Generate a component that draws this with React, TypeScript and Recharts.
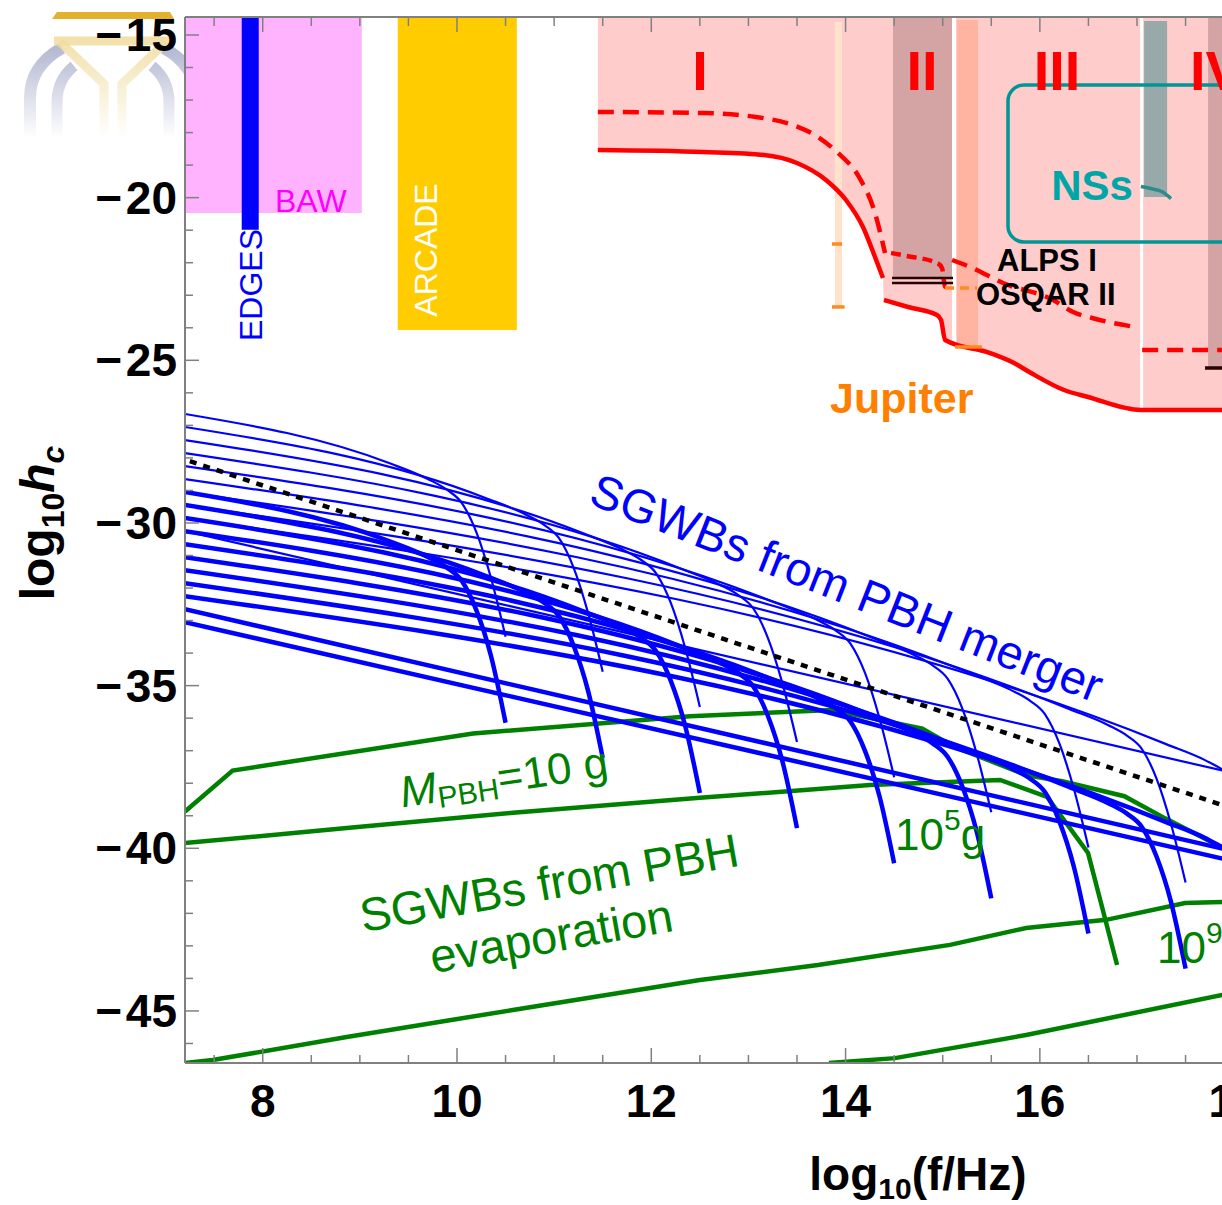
import React from "react";
import { ComposedChart, Line, Area, XAxis, YAxis, ReferenceArea } from "recharts";

const FONT = "'Liberation Sans', Arial, Helvetica, sans-serif";
const Y_TOP = -14.447;
const X_DOMAIN: [number, number] = [7.2, 18.4];
const Y_DOMAIN: [number, number] = [-46.6, Y_TOP];

const xTicks = [7.5, 8, 8.5, 9, 9.5, 10, 10.5, 11, 11.5, 12, 12.5, 13, 13.5, 14, 14.5, 15, 15.5, 16, 16.5, 17, 17.5, 18];
const yTicks = [-46, -45, -44, -43, -42, -41, -40, -39, -38, -37, -36, -35, -34, -33, -32, -31, -30, -29, -28, -27, -26, -25, -24, -23, -22, -21, -20, -19, -18, -17, -16, -15];

// ---- experimental bounds (red) ----
const redSolidX1 = [11.45, 12.531, 13.16, 13.499, 13.798, 14.004, 14.179, 14.303, 14.385];
const redSolidY1 = [-18.535, -18.597, -18.689, -18.935, -19.457, -20.072, -20.902, -21.824, -22.47];
const redSolidX2 = [14.395, 14.643, 14.941, 14.983, 15.024, 15.487, 15.734, 15.909, 16.249, 16.496, 17.042, 18.4];
const redSolidY2 = [-23.146, -23.362, -23.607, -23.761, -24.376, -24.776, -25.083, -25.39, -25.913, -26.128, -26.528, -26.528];

const redDashX1 = [11.45, 12.531, 13.077, 13.458, 13.716, 13.922, 14.138, 14.303, 14.406];
const redDashY1 = [-17.367, -17.398, -17.521, -17.767, -18.136, -18.627, -19.365, -20.472, -21.701];
const redDashX2 = [14.468, 14.632, 14.941, 14.993, 15.024, 15.075];
const redDashY2 = [-21.701, -21.794, -22.009, -22.163, -22.747, -22.777];
const redDashX3 = [15.096, 15.281, 15.621, 16.136, 16.342, 16.538, 16.98];
const redDashY3 = [-21.917, -22.132, -22.624, -23.146, -23.515, -23.7, -23.976];
const redDashX4 = [17.053, 18.4];
const redDashY4 = [-24.683, -24.683];

// ---- bands: [x1, x2], [lower, upper] ----
const bawX = [7.2, 9.02];
const bawY = [-20.47, Y_TOP];
const edgesX = [7.784, 7.959];
const edgesY = [-20.99, Y_TOP];
const arcadeX = [9.39, 10.616];
const arcadeY = [-24.07, Y_TOP];
const jupiterBandX = [13.89, 13.963];
const jupiterBandY = [-23.36, -14.6];
const bandIIX = [14.488, 15.096];
const bandIIY = [-22.47, Y_TOP];
const white1X = [15.096, 15.137];
const white1Y = [-24.45, Y_TOP];
const salmonX = [15.147, 15.363];
const salmonY = [-24.62, -14.54];
const white2X = [17.032, 17.063];
const white2Y = [-26.53, Y_TOP];
const nsBarX = [17.073, 17.31];
const nsBarY = [-19.98, -14.57];
const bandIVX = [17.732, 18.4];
const bandIVY = [-25.206, Y_TOP];
const nsBoxX = [15.672, 18.3];
const nsBoxY = [-21.363, -16.537];

// ---- short marks ----
const jupTick1X = [13.86, 13.963];
const jupTick1Y = [-21.425, -21.425];
const jupTick2X = [13.86, 13.99];
const jupTick2Y = [-23.36, -23.36];
const orangeDashX = [15.024, 15.353];
const orangeDashY = [-22.777, -22.777];
const orangeLowX = [15.127, 15.405];
const orangeLowY = [-24.59, -24.59];
const alps1X = [14.478, 15.106];
const alps1Y = [-22.47, -22.47];
const alps2X = [14.478, 15.106];
const alps2Y = [-22.624, -22.624];
const blackIVX = [17.7, 18.1];
const blackIVY = [-25.24, -25.24];
const nsArcX = [17.04, 17.14, 17.26, 17.35];
const nsArcY = [-19.66, -19.72, -19.82, -20.03];

// ---- SGWBs from PBH merger ----
const mergerThinX = [
  [7.2, 9.3, 9.7, 9.9, 10.05, 10.2, 10.35, 10.5],
  [7.2, 10.3, 10.7, 10.9, 11.05, 11.2, 11.35, 11.5],
  [7.2, 11.3, 11.7, 11.9, 12.05, 12.2, 12.35, 12.5],
  [7.2, 12.3, 12.7, 12.9, 13.05, 13.2, 13.35, 13.5],
  [7.2, 13.3, 13.7, 13.9, 14.05, 14.2, 14.35, 14.5],
  [7.2, 14.3, 14.7, 14.9, 15.05, 15.2, 15.35, 15.5],
  [7.2, 15.3, 15.7, 15.9, 16.05, 16.2, 16.35, 16.5],
  [7.2, 16.3, 16.7, 16.9, 17.05, 17.2, 17.35, 17.5],
  [7.2, 17.3, 17.7, 17.9, 18.05, 18.2, 18.35],
  [7.2, 18.4],
];
const mergerThinY = [
  [-26.65, -28.158, -28.65, -28.986, -29.388, -30.29, -31.692, -33.494],
  [-27.05, -29.238, -29.73, -30.066, -30.468, -31.37, -32.772, -34.574],
  [-27.45, -30.318, -30.81, -31.146, -31.548, -32.45, -33.852, -35.654],
  [-27.85, -31.398, -31.89, -32.226, -32.628, -33.53, -34.932, -36.734],
  [-28.25, -32.478, -32.97, -33.306, -33.708, -34.61, -36.012, -37.814],
  [-28.65, -33.558, -34.05, -34.386, -34.788, -35.69, -37.092, -38.894],
  [-29.05, -34.638, -35.13, -35.466, -35.868, -36.77, -38.172, -39.974],
  [-29.45, -35.718, -36.21, -36.546, -36.948, -37.85, -39.252, -41.054],
  [-29.85, -36.798, -37.29, -37.626, -38.028, -38.93, -40.332],
  [-30.25, -37.97],
];
const mergerThickX = [
  [7.2, 9.3, 9.7, 9.9, 10.05, 10.2, 10.35, 10.5],
  [7.2, 10.3, 10.7, 10.9, 11.05, 11.2, 11.35, 11.5],
  [7.2, 11.3, 11.7, 11.9, 12.05, 12.2, 12.35, 12.5],
  [7.2, 12.3, 12.7, 12.9, 13.05, 13.2, 13.35, 13.5],
  [7.2, 13.3, 13.7, 13.9, 14.05, 14.2, 14.35, 14.5],
  [7.2, 14.3, 14.7, 14.9, 15.05, 15.2, 15.35, 15.5],
  [7.2, 15.3, 15.7, 15.9, 16.05, 16.2, 16.35, 16.5],
  [7.2, 16.3, 16.7, 16.9, 17.05, 17.2, 17.35, 17.5],
  [7.2, 17.3, 17.7, 17.9, 18.05, 18.2, 18.35],
  [7.2, 18.4],
  [7.2, 18.4],
];
const mergerThickY = [
  [-29.05, -30.554, -31.046, -31.382, -31.784, -32.686, -34.088, -36.14],
  [-29.45, -31.634, -32.126, -32.462, -32.864, -33.766, -35.168, -37.22],
  [-29.85, -32.714, -33.206, -33.542, -33.944, -34.846, -36.248, -38.3],
  [-30.25, -33.794, -34.286, -34.622, -35.024, -35.926, -37.328, -39.38],
  [-30.65, -34.874, -35.366, -35.702, -36.104, -37.006, -38.408, -40.46],
  [-31.05, -35.954, -36.446, -36.782, -37.184, -38.086, -39.488, -41.54],
  [-31.45, -37.034, -37.526, -37.862, -38.264, -39.166, -40.568, -42.62],
  [-31.85, -38.114, -38.606, -38.942, -39.344, -40.246, -41.648, -43.7],
  [-32.25, -39.194, -39.686, -40.022, -40.424, -41.326, -42.728],
  [-32.65, -40.37],
  [-33.05, -40.67],
];
const dottedX = [7.25, 18.4];
const dottedY = [-28.1, -39.19];

// ---- SGWBs from PBH evaporation ----
const evap1X = [7.2, 7.69, 10.165, 12.4, 13.86, 14.79, 15.11, 15.87, 16.23, 16.87, 17.29, 17.89, 18.4];
const evap1Y = [-38.87, -37.61, -36.47, -35.94, -35.75, -36.32, -36.87, -37.76, -37.94, -38.4, -39.08, -40.0, -40.8];
const evap2X = [7.2, 8.865, 10.575, 12.5, 14.251, 15.59, 16.074, 16.496, 16.795];
const evap2Y = [-39.84, -39.376, -38.91, -38.45, -38.055, -37.9, -38.42, -40.146, -43.589];
const evap3X = [7.2, 7.485, 8.865, 10.575, 12.5, 13.716, 15.075, 15.858, 16.682, 17.495, 17.876, 18.4];
const evap3Y = [-46.6, -46.51, -45.8, -44.97, -44.05, -43.59, -42.97, -42.45, -42.2, -41.68, -41.65, -41.6];
const evap4X = [13.829, 14.509, 15.858, 17.876, 18.4];
const evap4Y = [-46.6, -46.45, -45.74, -44.51, -44.3];

const zip = (xs: number[], ys: number[]) => xs.map((x, i) => ({ x, y: ys[i] }));
const band = (xs: number[], ys: number[]) => xs.map((x) => ({ x, r: [ys[0], ys[1]] }));

const pinkData = [...zip(redSolidX1, redSolidY1), ...zip(redSolidX2, redSolidY2)].map((p) => ({ x: p.x, r: [p.y, Y_TOP] }));

const AXIS = "#808080";

const XTickBottom = (props: any) => {
  const { x, y, payload } = props;
  const v = payload.value;
  const major = Math.abs(v / 2 - Math.round(v / 2)) < 1e-6;
  return (
    <g>
      <line x1={x} x2={x} y1={y} y2={y - (major ? 15 : 8)} stroke={AXIS} strokeWidth={1.5} />
      {major && (
        <text x={x} y={y + 54} textAnchor="middle" fontFamily={FONT} fontWeight="bold" fontSize={46} fill="#000">
          {v}
        </text>
      )}
    </g>
  );
};

const XTickTop = (props: any) => {
  const { x, y, payload } = props;
  const v = payload.value;
  const major = Math.abs(v / 2 - Math.round(v / 2)) < 1e-6;
  return <line x1={x} x2={x} y1={y} y2={y + (major ? 15 : 9)} stroke={AXIS} strokeWidth={1.5} />;
};

const YTick = (props: any) => {
  const { x, y, payload } = props;
  const v = payload.value;
  const major = Math.abs(v / 5 - Math.round(v / 5)) < 1e-6;
  return (
    <g>
      <line x1={x} x2={x + (major ? 14 : 8)} y1={y} y2={y} stroke={AXIS} strokeWidth={1.5} />
      {major && (
        <text x={x - 8} y={y + 16} textAnchor="end" fontFamily={FONT} fontWeight="bold" fontSize={46} fill="#000">
          {"\u2212\u200A" + Math.abs(v)}
        </text>
      )}
    </g>
  );
};

const bandArea = (key: string, data: any[], fill: string) => (
  <Area
    key={key}
    data={data}
    dataKey="r"
    type="linear"
    stroke="none"
    fill={fill}
    fillOpacity={1}
    dot={false}
    activeDot={false}
    isAnimationActive={false}
  />
);

const seg = (key: string, data: any[], stroke: string, width: number, dash?: string, type: any = "linear") => (
  <Line
    key={key}
    data={data}
    dataKey="y"
    type={type}
    stroke={stroke}
    strokeWidth={width}
    strokeDasharray={dash}
    dot={false}
    activeDot={false}
    isAnimationActive={false}
  />
);

const Logo = () => (
  <svg width={230} height={150} style={{ position: "absolute", left: 0, top: 0, pointerEvents: "none" }}>
    <defs>
      <linearGradient id="fadeBlue" gradientUnits="userSpaceOnUse" x1="0" y1="40" x2="0" y2="138">
        <stop offset="0" stopColor="#A9AECB" stopOpacity={0.95} />
        <stop offset="1" stopColor="#A9AECB" stopOpacity={0} />
      </linearGradient>
      <linearGradient id="fadeGold" gradientUnits="userSpaceOnUse" x1="0" y1="36" x2="0" y2="138">
        <stop offset="0" stopColor="#F0DC9E" stopOpacity={0.9} />
        <stop offset="1" stopColor="#F0DC9E" stopOpacity={0} />
      </linearGradient>
    </defs>
    <polygon points="57,12 170,12 174,19 52,19" fill="#E2B12E" />
    <path d="M30,138 L30,98 Q30,66 62,48" fill="none" stroke="url(#fadeBlue)" strokeWidth={12} />
    <path d="M57,138 L57,102 Q57,80 74,66" fill="none" stroke="url(#fadeBlue)" strokeWidth={11} />
    <path d="M196,138 L196,98 Q196,66 164,48" fill="none" stroke="url(#fadeBlue)" strokeWidth={12} />
    <path d="M169,138 L169,102 Q169,80 152,66" fill="none" stroke="url(#fadeBlue)" strokeWidth={11} />
    <path d="M54,41 L172,41" fill="none" stroke="url(#fadeGold)" strokeWidth={9} />
    <path d="M60,42 L104,84 L104,138" fill="none" stroke="url(#fadeGold)" strokeWidth={9} />
    <path d="M166,42 L122,84 L122,138" fill="none" stroke="url(#fadeGold)" strokeWidth={9} />
  </svg>
);

export default function App() {
  return (
    <div style={{ position: "fixed", left: 0, top: 0, width: 1222, height: 1205, overflow: "hidden", background: "#fff" }}>
      <div style={{ position: "relative", width: 1300, height: 1205 }}>
        <Logo />
        <ComposedChart width={1300} height={1205} margin={{ top: 16, right: 27, bottom: 82, left: 85 }}>
          <XAxis
            dataKey="x"
            type="number"
            domain={X_DOMAIN}
            allowDataOverflow
            ticks={xTicks}
            interval={0}
            height={60}
            tickSize={0}
            tickMargin={0}
            tickLine={false}
            axisLine={{ stroke: AXIS, strokeWidth: 2 }}
            tick={(p: any) => <XTickBottom {...p} />}
          />
          <XAxis
            xAxisId="top"
            orientation="top"
            dataKey="x"
            type="number"
            domain={X_DOMAIN}
            allowDataOverflow
            ticks={xTicks}
            interval={0}
            height={1}
            tickSize={0}
            tickMargin={0}
            tickLine={false}
            axisLine={{ stroke: AXIS, strokeWidth: 2 }}
            tick={(p: any) => <XTickTop {...p} />}
          />
          <YAxis
            type="number"
            domain={Y_DOMAIN}
            allowDataOverflow
            ticks={yTicks}
            interval={0}
            width={100}
            tickSize={0}
            tickMargin={0}
            tickLine={false}
            axisLine={{ stroke: AXIS, strokeWidth: 2 }}
            tick={(p: any) => <YTick {...p} />}
          />

          <Area
            data={pinkData}
            dataKey="r"
            type="monotone"
            stroke="none"
            fill="#FFCCCC"
            fillOpacity={1}
            dot={false}
            activeDot={false}
            isAnimationActive={false}
          />
          {bandArea("baw", band(bawX, bawY), "#FFB3FF")}
          {bandArea("edges", band(edgesX, edgesY), "#0000FF")}
          {bandArea("arcade", band(arcadeX, arcadeY), "#FFCC00")}
          {bandArea("jup", band(jupiterBandX, jupiterBandY), "#FFE2CC")}
          {bandArea("b2", band(bandIIX, bandIIY), "#D4A3A3")}
          {bandArea("w1", band(white1X, white1Y), "#FFFFFF")}
          {bandArea("salmon", band(salmonX, salmonY), "#FFB3A0")}
          {bandArea("w2", band(white2X, white2Y), "#FFFFFF")}
          {bandArea("nsbar", band(nsBarX, nsBarY), "#98A9A9")}
          {bandArea("b4", band(bandIVX, bandIVY), "#D4A3A3")}

          {seg("e1", zip(evap1X, evap1Y), "#008000", 4.5)}
          {seg("e2", zip(evap2X, evap2Y), "#008000", 4.5)}
          {seg("e3", zip(evap3X, evap3Y), "#008000", 4.5)}
          {seg("e4", zip(evap4X, evap4Y), "#008000", 4.5)}

          {mergerThinX.map((xs, i) => seg("thin" + i, zip(xs, mergerThinY[i]), "#0000FF", 2.2, undefined, "monotone"))}
          {mergerThickX.map((xs, i) => seg("thick" + i, zip(xs, mergerThickY[i]), "#0000FF", 4.5, undefined, "monotone"))}
          {seg("dotted", zip(dottedX, dottedY), "#000000", 4.5, "7 7")}

          {seg("rs1", zip(redSolidX1, redSolidY1), "#FF0000", 4.5, undefined, "monotone")}
          {seg("rs2", zip(redSolidX2, redSolidY2), "#FF0000", 4.5, undefined, "monotone")}
          {seg("rd1", zip(redDashX1, redDashY1), "#FF0000", 4.5, "16 9", "monotone")}
          {seg("rd2", zip(redDashX2, redDashY2), "#FF0000", 4.5, "10 6", "monotone")}
          {seg("rd3", zip(redDashX3, redDashY3), "#FF0000", 4.5, "16 9", "monotone")}
          {seg("rd4", zip(redDashX4, redDashY4), "#FF0000", 4.5, "16 9")}

          {seg("jt1", zip(jupTick1X, jupTick1Y), "#FF8A1F", 3.5)}
          {seg("jt2", zip(jupTick2X, jupTick2Y), "#FF8A1F", 3.5)}
          {seg("od", zip(orangeDashX, orangeDashY), "#FF8A1F", 3.5, "9 6")}
          {seg("ol", zip(orangeLowX, orangeLowY), "#FF8A1F", 3.5)}
          {seg("a1", zip(alps1X, alps1Y), "#2A0000", 2.5)}
          {seg("a2", zip(alps2X, alps2Y), "#2A0000", 2.5)}
          {seg("biv", zip(blackIVX, blackIVY), "#2A0000", 3.5)}
          {seg("nsarc", zip(nsArcX, nsArcY), "#2E8B8B", 3.5, undefined, "monotone")}

          <ReferenceArea
            x1={nsBoxX[0]}
            x2={nsBoxX[1]}
            y1={nsBoxY[0]}
            y2={nsBoxY[1]}
            ifOverflow="visible"
            shape={(p: any) => (
              <rect x={p.x} y={p.y} width={p.width} height={p.height} rx={16} ry={16} fill="none" stroke="#009696" strokeWidth={3.5} />
            )}
          />
        </ComposedChart>

        <svg
          width={1300}
          height={1205}
          style={{ position: "absolute", left: 0, top: 0, pointerEvents: "none" }}
          fontFamily={FONT}
        >
          <text x={275} y={212} fontSize={32} fill="#FF00FF">BAW</text>
          <text transform="translate(251,285) rotate(-90)" textAnchor="middle" dominantBaseline="central" fontSize={32} fill="#0000FF">EDGES</text>
          <text transform="translate(426,250) rotate(-90)" textAnchor="middle" dominantBaseline="central" fontSize={32} fill="#FFFFFF">ARCADE</text>

          <text x={700} y={90} textAnchor="middle" fontSize={56} fontWeight="bold" fill="#FF0000">I</text>
          <text x={922} y={90} textAnchor="middle" fontSize={56} fontWeight="bold" fill="#FF0000">II</text>
          <text x={1057} y={90} textAnchor="middle" fontSize={56} fontWeight="bold" fill="#FF0000">III</text>
          <text x={1190} y={90} fontSize={56} fontWeight="bold" fill="#FF0000">IV</text>

          <text x={1092} y={200} textAnchor="middle" fontSize={42} fontWeight="bold" fill="#00A6A6">NSs</text>
          <text x={997} y={271} fontSize={31} fontWeight="bold" fill="#000">ALPS I</text>
          <text x={976} y={305} fontSize={31} fontWeight="bold" fill="#000">OSQAR II</text>
          <text x={830} y={413} fontSize={43} fontWeight="bold" fill="#FF8000">Jupiter</text>

          <text transform="translate(841,603) rotate(21.5)" textAnchor="middle" fontSize={47} fill="#0000FF">
            SGWBs from PBH merger
          </text>

          <text transform="translate(506,792) rotate(-8.5)" textAnchor="middle" fontSize={44} fill="#008000">
            <tspan fontStyle="italic">M</tspan>
            <tspan fontSize={30} dy={6}>PBH</tspan>
            <tspan dy={-6}>=10 g</tspan>
          </text>
          <text x={895} y={850} fontSize={44} fill="#008000">
            10<tspan fontSize={30} dy={-20}>5</tspan>
            <tspan dy={20}>g</tspan>
          </text>
          <text x={1157} y={963} fontSize={44} fill="#008000">
            10<tspan fontSize={30} dy={-20}>9</tspan>
          </text>
          <text transform="translate(552,899) rotate(-10)" textAnchor="middle" fontSize={47} fill="#008000">
            SGWBs from PBH
          </text>
          <text transform="translate(554,952) rotate(-10)" textAnchor="middle" fontSize={47} fill="#008000">
            evaporation
          </text>

          <text transform="translate(54,523) rotate(-90)" textAnchor="middle" fontSize={48} fontWeight="bold" fill="#000">
            log<tspan fontSize={32} dy={10}>10</tspan>
            <tspan dy={-10} fontStyle="italic">h</tspan>
            <tspan fontSize={32} dy={10} fontStyle="italic">c</tspan>
          </text>
          <text x={918} y={1190} textAnchor="middle" fontSize={46} fontWeight="bold" fill="#000">
            log<tspan fontSize={30} dy={9}>10</tspan>
            <tspan dy={-9}>(f/Hz)</tspan>
          </text>
        </svg>
      </div>
    </div>
  );
}
